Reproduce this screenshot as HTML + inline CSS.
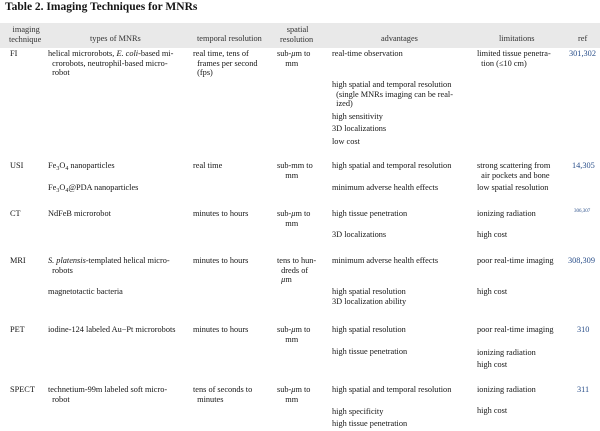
<!DOCTYPE html>
<html><head><meta charset="utf-8"><style>
body{margin:0;width:600px;height:431px;background:#fff;position:relative;overflow:hidden;font-family:"Liberation Serif",serif;color:#151515;}
.t{position:absolute;font-size:8.3px;line-height:9.5px;white-space:nowrap;}
.h{color:#333;}
.r{color:#2a4f8a;}
#title{position:absolute;left:5px;top:1px;font-size:11.5px;font-weight:bold;white-space:nowrap;}
#hdr{position:absolute;left:0;top:23px;width:600px;height:25px;background:#e9e9e9;}
sub{font-size:6px;vertical-align:-2px;line-height:0;}
</style></head><body>
<div id="title">Table 2. Imaging Techniques for MNRs</div>
<div id="hdr"></div>
<div class="t h" style="left:9px;top:25px;text-align:center">&nbsp;imaging<br>technique</div>
<div class="t h" style="left:90px;top:34px">types of MNRs</div>
<div class="t h" style="left:197px;top:34px">temporal resolution</div>
<div class="t h" style="left:280px;top:25px;text-align:center">&nbsp;spatial<br>resolution</div>
<div class="t h" style="left:381px;top:34px">advantages</div>
<div class="t h" style="left:499px;top:34px">limitations</div>
<div class="t h" style="left:578px;top:34px">ref</div>

<!-- FI -->
<div class="t" style="left:10px;top:49px">FI</div>
<div class="t" style="left:48px;top:49px">helical microrobots, <i>E. coli</i>-based mi-<br>&nbsp;&nbsp;crorobots, neutrophil-based micro-<br>&nbsp;&nbsp;robot</div>
<div class="t" style="left:193px;top:49px">real time, tens of<br>&nbsp;&nbsp;frames per second<br>&nbsp;&nbsp;(fps)</div>
<div class="t" style="left:277px;top:49px">sub-<i>μ</i>m to<br>&nbsp;&nbsp;&nbsp;&nbsp;mm</div>
<div class="t" style="left:332px;top:49px">real-time observation</div>
<div class="t" style="left:332px;top:80px">high spatial and temporal resolution<br>&nbsp;&nbsp;(single MNRs imaging can be real-<br>&nbsp;&nbsp;ized)</div>
<div class="t" style="left:332px;top:112px">high sensitivity</div>
<div class="t" style="left:332px;top:124px">3D localizations</div>
<div class="t" style="left:332px;top:137px">low cost</div>
<div class="t" style="left:477px;top:49px">limited tissue penetra-<br>&nbsp;&nbsp;tion (≤10 cm)</div>
<div class="t r" style="left:569px;top:49px">301,302</div>

<!-- USI -->
<div class="t" style="left:10px;top:161px">USI</div>
<div class="t" style="left:48px;top:161px">Fe<sub>3</sub>O<sub>4</sub> nanoparticles</div>
<div class="t" style="left:48px;top:183px">Fe<sub>3</sub>O<sub>4</sub>@PDA nanoparticles</div>
<div class="t" style="left:193px;top:161px">real time</div>
<div class="t" style="left:277px;top:161px">sub-mm to<br>&nbsp;&nbsp;&nbsp;&nbsp;mm</div>
<div class="t" style="left:332px;top:161px">high spatial and temporal resolution</div>
<div class="t" style="left:332px;top:183px">minimum adverse health effects</div>
<div class="t" style="left:477px;top:161px">strong scattering from<br>&nbsp;&nbsp;air pockets and bone</div>
<div class="t" style="left:477px;top:183px">low spatial resolution</div>
<div class="t r" style="left:572px;top:161px">14,305</div>

<!-- CT -->
<div class="t" style="left:10px;top:209px">CT</div>
<div class="t" style="left:48px;top:209px">NdFeB microrobot</div>
<div class="t" style="left:193px;top:209px">minutes to hours</div>
<div class="t" style="left:277px;top:209px">sub-<i>μ</i>m to<br>&nbsp;&nbsp;&nbsp;&nbsp;mm</div>
<div class="t" style="left:332px;top:209px">high tissue penetration</div>
<div class="t" style="left:332px;top:230px">3D localizations</div>
<div class="t" style="left:477px;top:209px">ionizing radiation</div>
<div class="t" style="left:477px;top:230px">high cost</div>
<div class="t r" style="left:574px;top:207px;font-size:5px">306,307</div>

<!-- MRI -->
<div class="t" style="left:10px;top:256px">MRI</div>
<div class="t" style="left:48px;top:256px"><i>S. platensis</i>-templated helical micro-<br>&nbsp;&nbsp;robots</div>
<div class="t" style="left:48px;top:287px">magnetotactic bacteria</div>
<div class="t" style="left:193px;top:256px">minutes to hours</div>
<div class="t" style="left:277px;top:256px">tens to hun-<br>&nbsp;&nbsp;dreds of<br>&nbsp;&nbsp;<i>μ</i>m</div>
<div class="t" style="left:332px;top:256px">minimum adverse health effects</div>
<div class="t" style="left:332px;top:287px">high spatial resolution<br>3D localization ability</div>
<div class="t" style="left:477px;top:256px">poor real-time imaging</div>
<div class="t" style="left:477px;top:287px">high cost</div>
<div class="t r" style="left:568px;top:256px">308,309</div>

<!-- PET -->
<div class="t" style="left:10px;top:325px">PET</div>
<div class="t" style="left:48px;top:325px">iodine-124 labeled Au−Pt microrobots</div>
<div class="t" style="left:193px;top:325px">minutes to hours</div>
<div class="t" style="left:277px;top:325px">sub-<i>μ</i>m to<br>&nbsp;&nbsp;&nbsp;&nbsp;mm</div>
<div class="t" style="left:332px;top:325px">high spatial resolution</div>
<div class="t" style="left:332px;top:347px">high tissue penetration</div>
<div class="t" style="left:477px;top:325px">poor real-time imaging</div>
<div class="t" style="left:477px;top:347px;line-height:12px">ionizing radiation<br>high cost</div>
<div class="t r" style="left:577px;top:325px">310</div>

<!-- SPECT -->
<div class="t" style="left:10px;top:385px">SPECT</div>
<div class="t" style="left:48px;top:385px">technetium-99m labeled soft micro-<br>&nbsp;&nbsp;robot</div>
<div class="t" style="left:193px;top:385px">tens of seconds to<br>&nbsp;&nbsp;minutes</div>
<div class="t" style="left:277px;top:385px">sub-<i>μ</i>m to<br>&nbsp;&nbsp;&nbsp;&nbsp;mm</div>
<div class="t" style="left:332px;top:385px">high spatial and temporal resolution</div>
<div class="t" style="left:332px;top:406px;line-height:12px">high specificity<br>high tissue penetration</div>
<div class="t" style="left:477px;top:385px">ionizing radiation</div>
<div class="t" style="left:477px;top:406px">high cost</div>
<div class="t r" style="left:577px;top:385px">311</div>
</body></html>
